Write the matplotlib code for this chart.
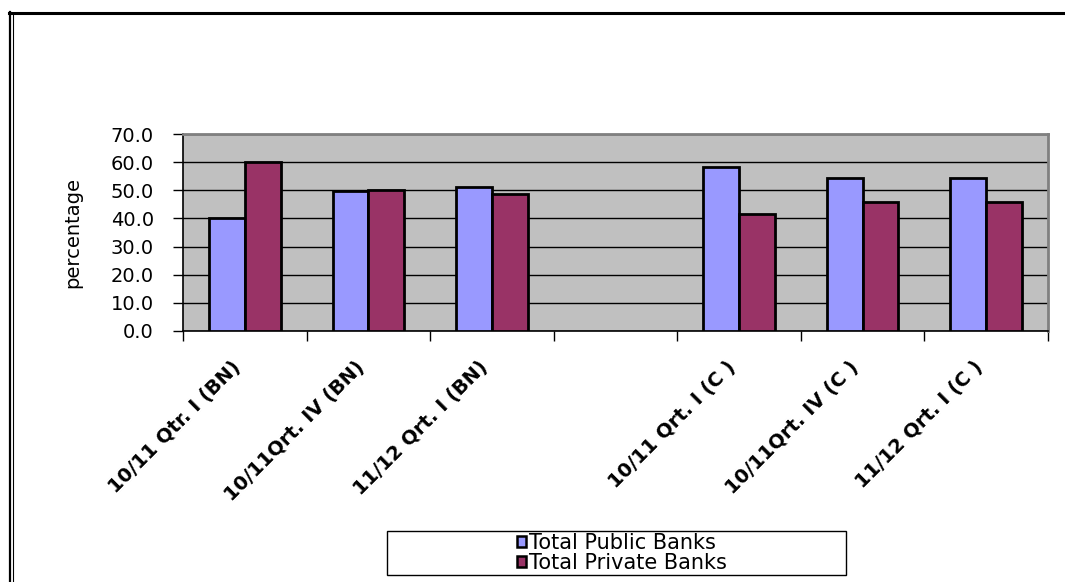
import numpy as np
import matplotlib
matplotlib.use("Agg")
import matplotlib.pyplot as plt
from matplotlib.lines import Line2D
from matplotlib.patches import Rectangle, Patch

plt.rcParams["font.family"] = ["DejaVu Sans"]

# bank share by quarter (BN / C); the fourth slot is left empty on purpose
categories = ["10/11 Qtr. I (BN)", "10/11Qrt. IV (BN)", "11/12 Qrt. I (BN)", "",
              "10/11 Qrt. I (C )", "10/11Qrt. IV (C )", "11/12 Qrt. I (C )"]
public_banks = [40.0, 49.8, 51.2, np.nan, 58.4, 54.3, 54.3]
private_banks = [60.0, 50.2, 48.8, np.nan, 41.6, 45.7, 45.7]
yticks = [0, 10, 20, 30, 40, 50, 60, 70]

W, H = 1065, 582
fig = plt.figure(figsize=(W / 100, H / 100), dpi=100, facecolor="white")
ax = fig.add_axes([183 / W, 1 - 331 / H, 865 / W, 197 / H])

x = np.arange(len(categories))
bw = 0.29
ax.bar(x - bw / 2, public_banks, bw, color="#9999FF", edgecolor="black",
       linewidth=2.0, zorder=3, label="Total Public Banks")
ax.bar(x + bw / 2, private_banks, bw, color="#993366", edgecolor="black",
       linewidth=2.0, zorder=3, label="Total Private Banks")

ax.set_facecolor("#C0C0C0")
ax.set_xlim(-0.5, len(categories) - 0.5)
ax.set_ylim(0, 70)
ax.set_yticks(yticks)
ax.set_yticklabels([f"{v:.1f}" for v in yticks])
ax.yaxis.grid(True, color="black", linewidth=1.0, zorder=1)
ax.set_axisbelow(True)

# boundary ticks on x, labels sit on the category centres
ax.set_xticks(np.arange(len(categories) + 1) - 0.5)
ax.set_xticklabels([])
ax.set_xticks(x, minor=True)
ax.set_xticklabels(categories, minor=True, rotation=45, ha="right", va="top",
                   fontsize=14, fontweight="bold")
ax.tick_params(axis="x", which="major", direction="out", length=7, width=1)
ax.tick_params(axis="x", which="minor", length=0, pad=19)
ax.tick_params(axis="y", direction="out", length=7, width=1, pad=14, labelsize=14)

for side in ("left", "bottom"):
    ax.spines[side].set_color("black")
    ax.spines[side].set_linewidth(1.2)
for side in ("top", "right"):
    ax.spines[side].set_color("#808080")
    ax.spines[side].set_linewidth(2)

ax.set_ylabel("percentage", fontsize=14)
ax.yaxis.set_label_coords(-0.116, 0.5)

# legend in a plain box under the plot
fig.patches.append(Rectangle((387 / W, 1 - 575 / H), 459 / W, 44 / H,
                             transform=fig.transFigure, facecolor="white",
                             edgecolor="black", linewidth=1.0))
handles = [Patch(facecolor="#9999FF", edgecolor="black", linewidth=1.8),
           Patch(facecolor="#993366", edgecolor="black", linewidth=1.8)]
fig.legend(handles, ["Total Public Banks", "Total Private Banks"],
           loc="center", bbox_to_anchor=(622 / W, 1 - 553 / H), frameon=False,
           fontsize=15, handlelength=0.45, handleheight=0.45, handletextpad=0.15,
           labelspacing=0.0, borderpad=0.1)

# page frame: heavy top rule, double rule on the left
fig.lines.append(Line2D([9 / W, 1], [1 - 12.5 / H] * 2, transform=fig.transFigure,
                        color="black", linewidth=2.2))
fig.lines.append(Line2D([9.5 / W] * 2, [1 - 12 / H, 0], transform=fig.transFigure,
                        color="black", linewidth=1.6))
fig.lines.append(Line2D([12.5 / W] * 2, [1 - 14 / H, 0], transform=fig.transFigure,
                        color="black", linewidth=0.8))

fig.savefig("out.png", dpi=100, facecolor="white")
